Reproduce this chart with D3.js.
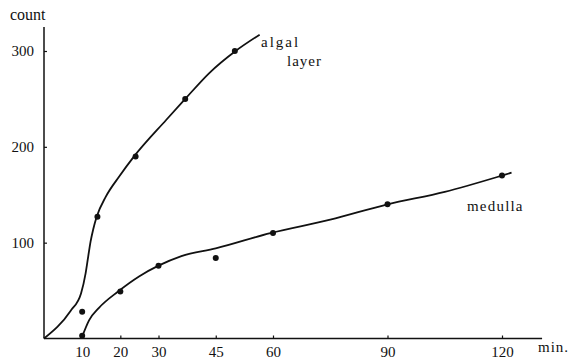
<!doctype html>
<html>
<head>
  <meta charset="UTF-8">
  <script src="https://d3js.org/d3.v7.min.js"></script>
  <style>
    body { margin: 0; background: #fff; }
    text { font-family: "Liberation Serif", "DejaVu Serif", serif; fill: #111; }
  </style>
</head>
<body>
<svg width="572" height="360"></svg>
<script>
// measured points (minutes, count)
var algalMin = [10, 14, 24, 37, 50];
var algalCount = [28, 127, 190, 250, 300];
var medullaMin = [10, 20, 30, 45, 60, 90, 120];
var medullaCount = [3, 49, 76, 84, 110, 140, 170];

// hand-drawn fitted curves
var algalCurveMin = [0, 7, 9.7, 10.9, 11.6, 12.2, 12.9, 13.8, 16.2, 19.7, 23.6, 32, 37, 43.3, 50.2, 56.5];
var algalCurveCount = [0, 29, 47, 68, 86, 101, 114, 127, 148, 169, 190, 228, 250, 277, 300, 317];
var medullaCurveMin = [10, 11.8, 14.4, 19.4, 25, 30, 36, 45, 59.3, 75, 90, 105, 120, 122.5];
var medullaCurveCount = [2, 19, 32, 49, 65, 76, 86, 94, 110, 124, 140, 153, 170, 173];

var xTicks = [10, 20, 30, 45, 60, 90, 120];
var yTicks = [100, 200, 300];

var svg = d3.select("svg");
var x = d3.scaleLinear().domain([0, 120]).range([44, 502]);
var y = d3.scaleLinear().domain([0, 300]).range([338.5, 51]);

// axes
svg.append("line")
  .attr("x1", x(0)).attr("x2", x(0))
  .attr("y1", y(0)).attr("y2", y(325))
  .attr("stroke", "#111").attr("stroke-width", 1.5);
svg.append("line")
  .attr("x1", x(0)).attr("x2", x(130.5))
  .attr("y1", y(0)).attr("y2", y(0))
  .attr("stroke", "#111").attr("stroke-width", 1.5);

var yAxis = svg.append("g")
  .attr("transform", "translate(" + x(0) + ",0)")
  .call(d3.axisLeft(y).tickValues(yTicks).tickSizeInner(-3).tickSizeOuter(0).tickPadding(10));
var xAxis = svg.append("g")
  .attr("transform", "translate(0," + y(0) + ")")
  .call(d3.axisBottom(x).tickValues(xTicks).tickSizeInner(-3).tickSizeOuter(0).tickPadding(8));

[yAxis, xAxis].forEach(function(a) {
  a.select(".domain").remove();
  a.selectAll("line").attr("stroke", "#111").attr("stroke-width", 1.2);
  a.selectAll("text").attr("font-size", 15).attr("fill", "#111");
});

svg.append("text").attr("x", 10).attr("y", 20).attr("font-size", 16).text("count");
svg.append("text").attr("x", 538).attr("y", 352).attr("font-size", 15)
  .attr("letter-spacing", 1).text("min.");

// curves
var line = d3.line()
  .x(function(d) { return x(d[0]); })
  .y(function(d) { return y(d[1]); })
  .curve(d3.curveMonotoneX);

svg.append("path")
  .datum(d3.zip(algalCurveMin, algalCurveCount))
  .attr("d", line)
  .attr("fill", "none").attr("stroke", "#111").attr("stroke-width", 1.8);
svg.append("path")
  .datum(d3.zip(medullaCurveMin, medullaCurveCount))
  .attr("d", line)
  .attr("fill", "none").attr("stroke", "#111").attr("stroke-width", 1.8);

// points
svg.append("g").selectAll("circle")
  .data(d3.zip(algalMin, algalCount).concat(d3.zip(medullaMin, medullaCount)))
  .enter().append("circle")
  .attr("cx", function(d) { return x(d[0]); })
  .attr("cy", function(d) { return y(d[1]); })
  .attr("r", 3)
  .attr("fill", "#111");

// labels
svg.append("text").attr("x", 261).attr("y", 47).attr("font-size", 15)
  .attr("letter-spacing", 2).text("algal");
svg.append("text").attr("x", 287).attr("y", 66).attr("font-size", 15)
  .attr("letter-spacing", 1).text("layer");
svg.append("text").attr("x", 467).attr("y", 211).attr("font-size", 15)
  .attr("letter-spacing", 1.2).text("medulla");
</script>
</body>
</html>
